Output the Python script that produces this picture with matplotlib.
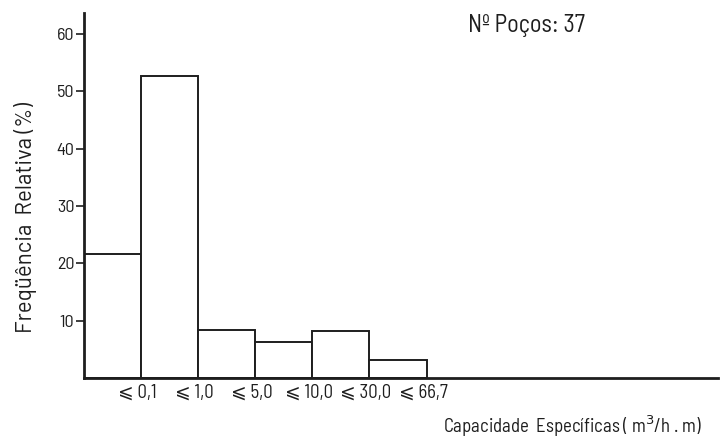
import matplotlib
matplotlib.use('Agg')
import matplotlib.pyplot as plt

# classes (upper bound) and relative frequency (%)
classes = ['⩽ 0,1', '⩽ 1,0', '⩽ 5,0', '⩽ 10,0', '⩽ 30,0', '⩽ 66,7']
freq = [21.7, 52.6, 8.3, 6.2, 8.2, 3.2]
yticks = [10, 20, 30, 40, 50, 60]

plt.rcParams['font.family'] = ['Barlow Semi Condensed', 'DejaVu Sans']
ink = '#1e1e1e'

fig = plt.figure(figsize=(7.2, 4.42), dpi=100)
ax = fig.add_axes([0.1167, 0.145, 0.88, 0.826])

pos = list(range(len(freq)))
ax.bar(pos, freq, width=1.0, align='edge', facecolor='white',
       edgecolor=ink, linewidth=1.4)

ax.set_xlim(0, 11.1)
ax.set_ylim(0, 63.7)

ax.spines['top'].set_visible(False)
ax.spines['right'].set_visible(False)
ax.spines['left'].set_linewidth(2.0)
ax.spines['bottom'].set_linewidth(2.0)
ax.spines['left'].set_color(ink)
ax.spines['bottom'].set_color(ink)

ax.set_yticks(yticks)
ax.set_yticklabels([str(v) for v in yticks], fontsize=13, color=ink)
ax.tick_params(axis='y', direction='out', length=6, width=1.2, pad=1, colors=ink)

# class labels sit at the right edge of each bar
ax.set_xticks([p + 0.94 for p in pos])
ax.set_xticklabels(classes, fontsize=13.5, color=ink)
ax.tick_params(axis='x', length=0, pad=4)

ax.set_ylabel('Freqüência  Relativa (%)', fontsize=16, color=ink,
              family=['Barlow', 'DejaVu Sans'])
ax.yaxis.set_label_coords(-0.075, 0.44)

fig.text(0.976, 0.036, 'Capacidade  Específicas ( m$^3$/h . m)', ha='right',
         va='center', fontsize=13.5, color=ink)
fig.text(0.65, 0.943, 'Nº Poços: 37', ha='left', va='center',
         fontsize=17.5, color=ink)

fig.savefig('out.png', dpi=100, facecolor='white')
